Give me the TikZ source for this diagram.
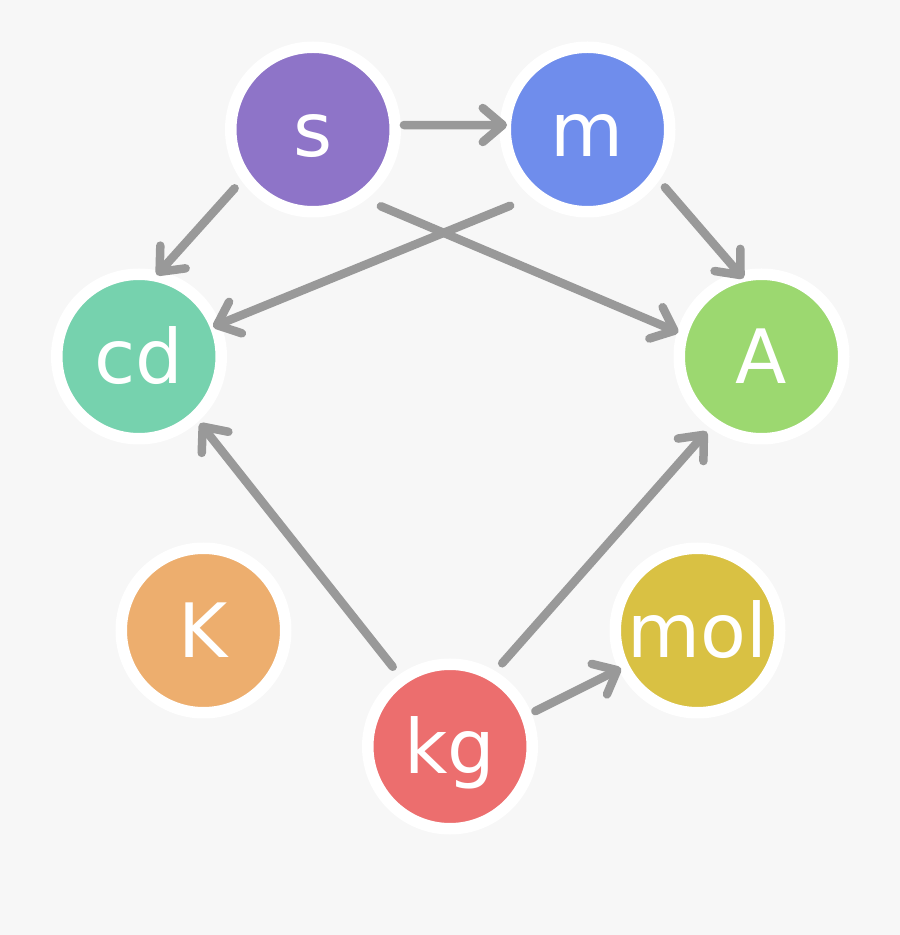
\documentclass[tikz,border=0pt]{standalone}
\usepackage{fontspec}
\setmainfont{DejaVu Sans}
\usetikzlibrary{arrows.meta,calc}
\definecolor{bg}{HTML}{F7F7F7}
\definecolor{arrowgray}{HTML}{999999}
\definecolor{cs}{HTML}{8E74C8}
\definecolor{cm}{HTML}{6F8DEC}
\definecolor{ccd}{HTML}{76D2AE}
\definecolor{cA}{HTML}{9CD870}
\definecolor{cK}{HTML}{EDAE6E}
\definecolor{cmol}{HTML}{D9C143}
\definecolor{ckg}{HTML}{EC6E6E}
\begin{document}
\begin{tikzpicture}[x=1pt,y=1pt,
  unit/.style={circle, fill=#1, draw=white, line width=11.5pt, minimum size=164.5pt,
    inner sep=0pt, text=white, font=\fontsize{75}{80}\selectfont,
    text height=55pt, text depth=0pt},
  link/.style={draw=arrowgray, line width=8.5pt, line cap=round,
    -{Straight Barb[length=20pt,width=34pt,round]}}]
\fill[bg] (0,0) rectangle (900,935);
\useasboundingbox (0,0) rectangle (900,935);
\node[unit=cs]   (s)   at (313,805.5)   {s};
\node[unit=cm]   (m)   at (587.5,805.5) {m};
\node[unit=ccd]  (cd)  at (139,578.5)   {cd};
\node[unit=cA]   (A)   at (761.5,578.5) {A};
\node[unit=cK]   (K)   at (203.5,304.5) {K};
\node[unit=cmol] (mol) at (697.5,304.5) {mol};
\node[unit=ckg]  (kg)  at (450,188.5)   {kg};
\draw[link] ($(s)+(2.8:91)$) -- ($(m)+(176.8:80.6)$);
\draw[link] ($(s)+(216.9:98)$) -- ($(cd)+(77.7:83.4)$);
\draw[link] ($(m)+(224.6:108.6)$) -- ($(cd)+(21.9:79.8)$);
\draw[link] ($(s)+(311.5:102.5)$) -- ($(A)+(163.8:86.6)$);
\draw[link] ($(m)+(323.2:96.6)$) -- ($(A)+(103.1:80.3)$);
\draw[link] ($(kg)+(125.7:98.2)$) -- ($(cd)+(312.4:90.5)$);
\draw[link] ($(kg)+(57.9:98.2)$) -- ($(A)+(233.9:93)$);
\draw[link] ($(kg)+(22.5:92.4)$) -- ($(mol)+(206.3:85.3)$);
\end{tikzpicture}
\end{document}
